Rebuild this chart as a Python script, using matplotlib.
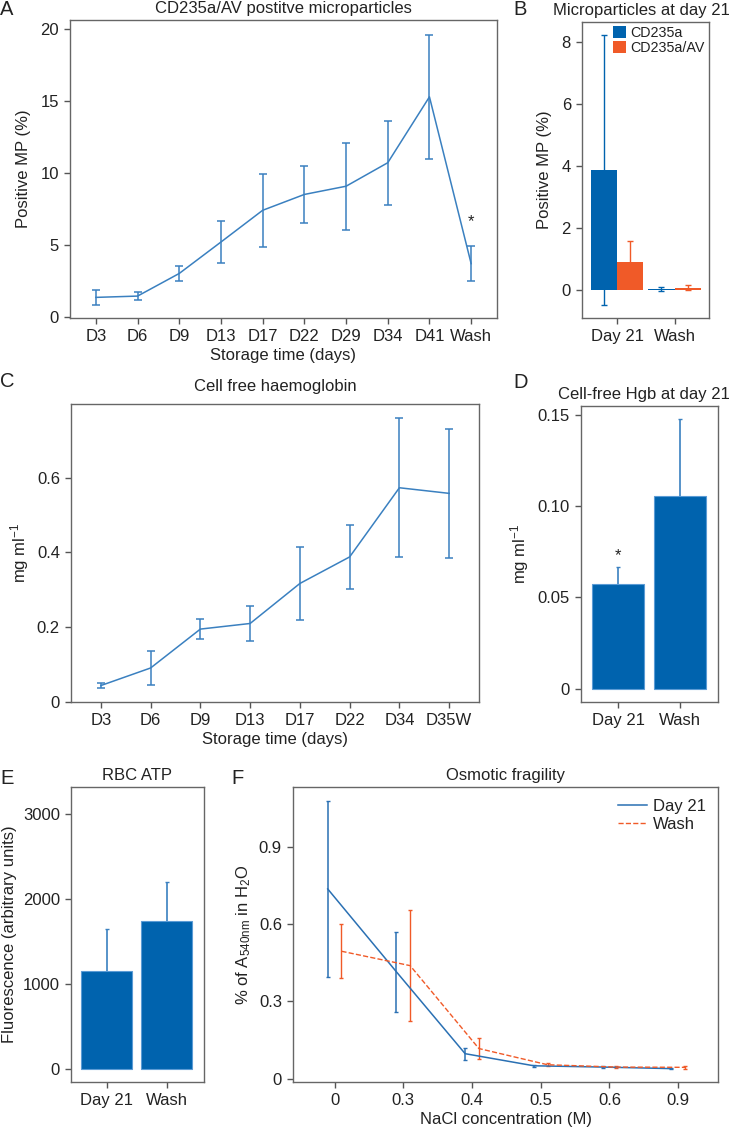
import matplotlib
matplotlib.use('Agg')
import matplotlib.pyplot as plt
import numpy as np

plt.rcParams['font.family'] = ['Liberation Sans', 'DejaVu Sans']
plt.rcParams['font.size'] = 12
plt.rcParams['axes.titlesize'] = 12
plt.rcParams['mathtext.fontset'] = 'custom'
plt.rcParams['mathtext.rm'] = 'Liberation Sans'
plt.rcParams['mathtext.it'] = 'Liberation Sans'
plt.rcParams['text.color'] = '#222222'
plt.rcParams['axes.labelcolor'] = '#222222'
plt.rcParams['xtick.color'] = '#555555'
plt.rcParams['ytick.color'] = '#555555'
plt.rcParams['xtick.labelcolor'] = '#222222'
plt.rcParams['ytick.labelcolor'] = '#222222'
plt.rcParams['axes.edgecolor'] = '#666666'
plt.rcParams['axes.linewidth'] = 1.0

# A - CD235a/AV positive microparticles over storage
tage_a = ['D3', 'D6', 'D9', 'D13', 'D17', 'D22', 'D29', 'D34', 'D41', 'Wash']
mp_mean = [1.36, 1.45, 3.02, 5.2, 7.4, 8.5, 9.07, 10.7, 15.27, 3.7]
mp_err = [0.5, 0.29, 0.5, 1.46, 2.52, 2.0, 3.03, 2.9, 4.3, 1.2]

# B - microparticles at day 21
grupy = ['Day 21', 'Wash']
cd235a = [3.86, 0.03]
cd235a_err = [4.34, 0.06]
cd235a_av = [0.88, 0.07]
cd235a_av_err = [0.70, 0.09]

# C - cell free haemoglobin
tage_c = ['D3', 'D6', 'D9', 'D13', 'D17', 'D22', 'D34', 'D35W']
hgb_mean = [0.044, 0.091, 0.195, 0.21, 0.317, 0.388, 0.573, 0.558]
hgb_err = [0.007, 0.045, 0.027, 0.048, 0.097, 0.085, 0.186, 0.173]

# D - cell-free Hgb at day 21
hgb21 = [0.0576, 0.1057]
hgb21_err = [0.0092, 0.0423]

# E - RBC ATP
atp = [1153, 1745]
atp_err = [494, 459]

# F - osmotic fragility
nacl = ['0', '0.3', '0.4', '0.5', '0.6', '0.9']
of_day21 = [0.737, 0.415, 0.097, 0.05, 0.045, 0.039]
of_day21_err = [0.341, 0.155, 0.024, 0.004, 0.003, 0.003]
of_wash = [0.495, 0.439, 0.117, 0.054, 0.045, 0.044]
of_wash_err = [0.105, 0.215, 0.039, 0.005, 0.003, 0.006]

linia = '#3a80c0'
niebieski = '#0063ae'
pomaranczowy = '#f05a28'
krawedz = '#5b9bd5'

W, H = 732, 1133
fig = plt.figure(figsize=(W / 100, H / 100), dpi=100)


def os_px(l, t, r, b):
    return fig.add_axes([l / W, 1 - b / H, (r - l) / W, (b - t) / H])


def styl(ax):
    ax.tick_params(top=False, right=False, direction='out', length=4, width=1, pad=4)


def litera(x, y, s):
    fig.text(x / W, 1 - y / H, s, fontsize=14.5, va='top', ha='left')


# --- A ---
axA = os_px(70, 20, 497, 318)
x = np.arange(len(tage_a))
axA.errorbar(x, mp_mean, yerr=mp_err, color=linia, lw=1.1, capsize=3, elinewidth=1.1, capthick=1.1)
axA.text(9, 6.3, '*', ha='center', fontsize=12)
axA.set_xticks(x)
axA.set_xticklabels(tage_a)
axA.set_xlim(-0.62, 9.62)
axA.set_ylim(-0.07, 20.6)
axA.set_yticks([0, 5, 10, 15, 20])
axA.set_title('CD235a/AV postitve microparticles', pad=5)
axA.set_xlabel('Storage time (days)', labelpad=3)
axA.set_ylabel('Positive MP (%)', labelpad=7)
styl(axA)
litera(0, 0, 'A')

# --- B ---
axB = os_px(582, 22, 709, 318)
xb = np.arange(len(grupy))
w = 0.46
axB.errorbar(xb - w / 2, cd235a, yerr=cd235a_err, fmt='none', ecolor=niebieski, capsize=2, elinewidth=1, zorder=1)
axB.errorbar(xb + w / 2, cd235a_av, yerr=cd235a_av_err, fmt='none', ecolor=pomaranczowy, capsize=2, elinewidth=1, zorder=1)
axB.bar(xb - w / 2, cd235a, w, color=niebieski, label='CD235a', zorder=2)
axB.bar(xb + w / 2, cd235a_av, w, color=pomaranczowy, label='CD235a/AV', zorder=2)
axB.set_xticks(xb)
axB.set_xticklabels(grupy)
axB.set_xlim(-0.61, 1.60)
axB.set_ylim(-0.91, 8.63)
axB.set_yticks([0, 2, 4, 6, 8])
axB.set_title('Microparticles at day 21', pad=5, x=(730 - 582) / 127, ha='right')
axB.set_ylabel('Positive MP (%)', labelpad=7)
axB.legend(loc='upper right', frameon=False, fontsize=10.3, handlelength=0.9, handleheight=0.9,
           handletextpad=0.3, labelspacing=0.05, borderaxespad=0.1, borderpad=0.2)
styl(axB)
litera(513, 0, 'B')

# --- C ---
axC = os_px(71, 404, 479, 702)
xc = np.arange(len(tage_c))
axC.errorbar(xc, hgb_mean, yerr=hgb_err, color=linia, lw=1.1, capsize=3, elinewidth=1.1, capthick=1.1)
axC.set_xticks(xc)
axC.set_xticklabels(tage_c)
axC.set_xlim(-0.6, 7.6)
axC.set_ylim(0, 0.797)
axC.set_yticks([0, 0.2, 0.4, 0.6])
axC.set_yticklabels(['0', '0.2', '0.4', '0.6'])
axC.set_title('Cell free haemoglobin', pad=9)
axC.set_xlabel('Storage time (days)', labelpad=3)
axC.set_ylabel('mg ml$^{-1}$', labelpad=4)
styl(axC)
litera(0, 372, 'C')

# --- D ---
axD = os_px(581, 406, 718, 702)
axD.errorbar(xb, hgb21, yerr=hgb21_err, fmt='none', ecolor=linia, capsize=1.5, elinewidth=1.2, zorder=1)
axD.bar(xb, hgb21, 0.84, color=niebieski, edgecolor=krawedz, linewidth=0.8, zorder=2)
axD.text(0, 0.0705, '*', ha='center', fontsize=12)
axD.set_xticks(xb)
axD.set_xticklabels(grupy)
axD.set_xlim(-0.605, 1.62)
axD.set_ylim(-0.0073, 0.155)
axD.set_yticks([0, 0.05, 0.10, 0.15])
axD.set_yticklabels(['0', '0.05', '0.10', '0.15'])
axD.set_title('Cell-free Hgb at day 21', pad=5, x=(730 - 581) / 137, ha='right')
axD.set_ylabel('mg ml$^{-1}$', labelpad=5)
styl(axD)
litera(513, 373, 'D')

# --- E ---
axE = os_px(71, 787, 204, 1082)
axE.errorbar(xb, atp, yerr=atp_err, fmt='none', ecolor=linia, capsize=1.5, elinewidth=1.2, zorder=1)
axE.bar(xb, atp, 0.855, color=niebieski, edgecolor=krawedz, linewidth=0.8, zorder=2)
axE.set_xticks(xb)
axE.set_xticklabels(grupy)
axE.set_xlim(-0.6, 1.627)
axE.set_ylim(-156, 3321)
axE.set_yticks([0, 1000, 2000, 3000])
axE.set_title('RBC ATP', pad=5)
axE.set_ylabel('Fluorescence (arbitrary units)', labelpad=4)
styl(axE)
litera(0, 769, 'E')

# --- F ---
axF = os_px(293, 787, 718, 1082)
xf = np.arange(len(nacl))
axF.errorbar(xf - 0.1, of_day21, yerr=of_day21_err, color='#2a70b3', lw=1.1, capsize=1.5,
             elinewidth=1.1, label='Day 21')
axF.errorbar(xf + 0.1, of_wash, yerr=of_wash_err, color=pomaranczowy, lw=1.0, ls='--', capsize=1.5,
             elinewidth=1.0, label='Wash')
axF.set_xticks(xf)
axF.set_xticklabels(nacl)
axF.set_xlim(-0.605, 5.58)
axF.set_ylim(-0.013, 1.133)
axF.set_yticks([0, 0.3, 0.6, 0.9])
axF.set_yticklabels(['0', '0.3', '0.6', '0.9'])
axF.set_title('Osmotic fragility', pad=5)
axF.set_xlabel('NaCl concentration (M)', labelpad=3)
axF.set_ylabel('% of A$_{\\mathrm{540nm}}$ in H$_{\\mathrm{2}}$O', labelpad=4)
h, l = axF.get_legend_handles_labels()
h = [hh[0] for hh in h]
axF.legend(h, l, loc='upper right', frameon=False, handlelength=1.7,
           handletextpad=0.4, labelspacing=0.2, borderaxespad=0.3)
styl(axF)
litera(231, 769, 'F')

fig.savefig('out.png', dpi=100)
